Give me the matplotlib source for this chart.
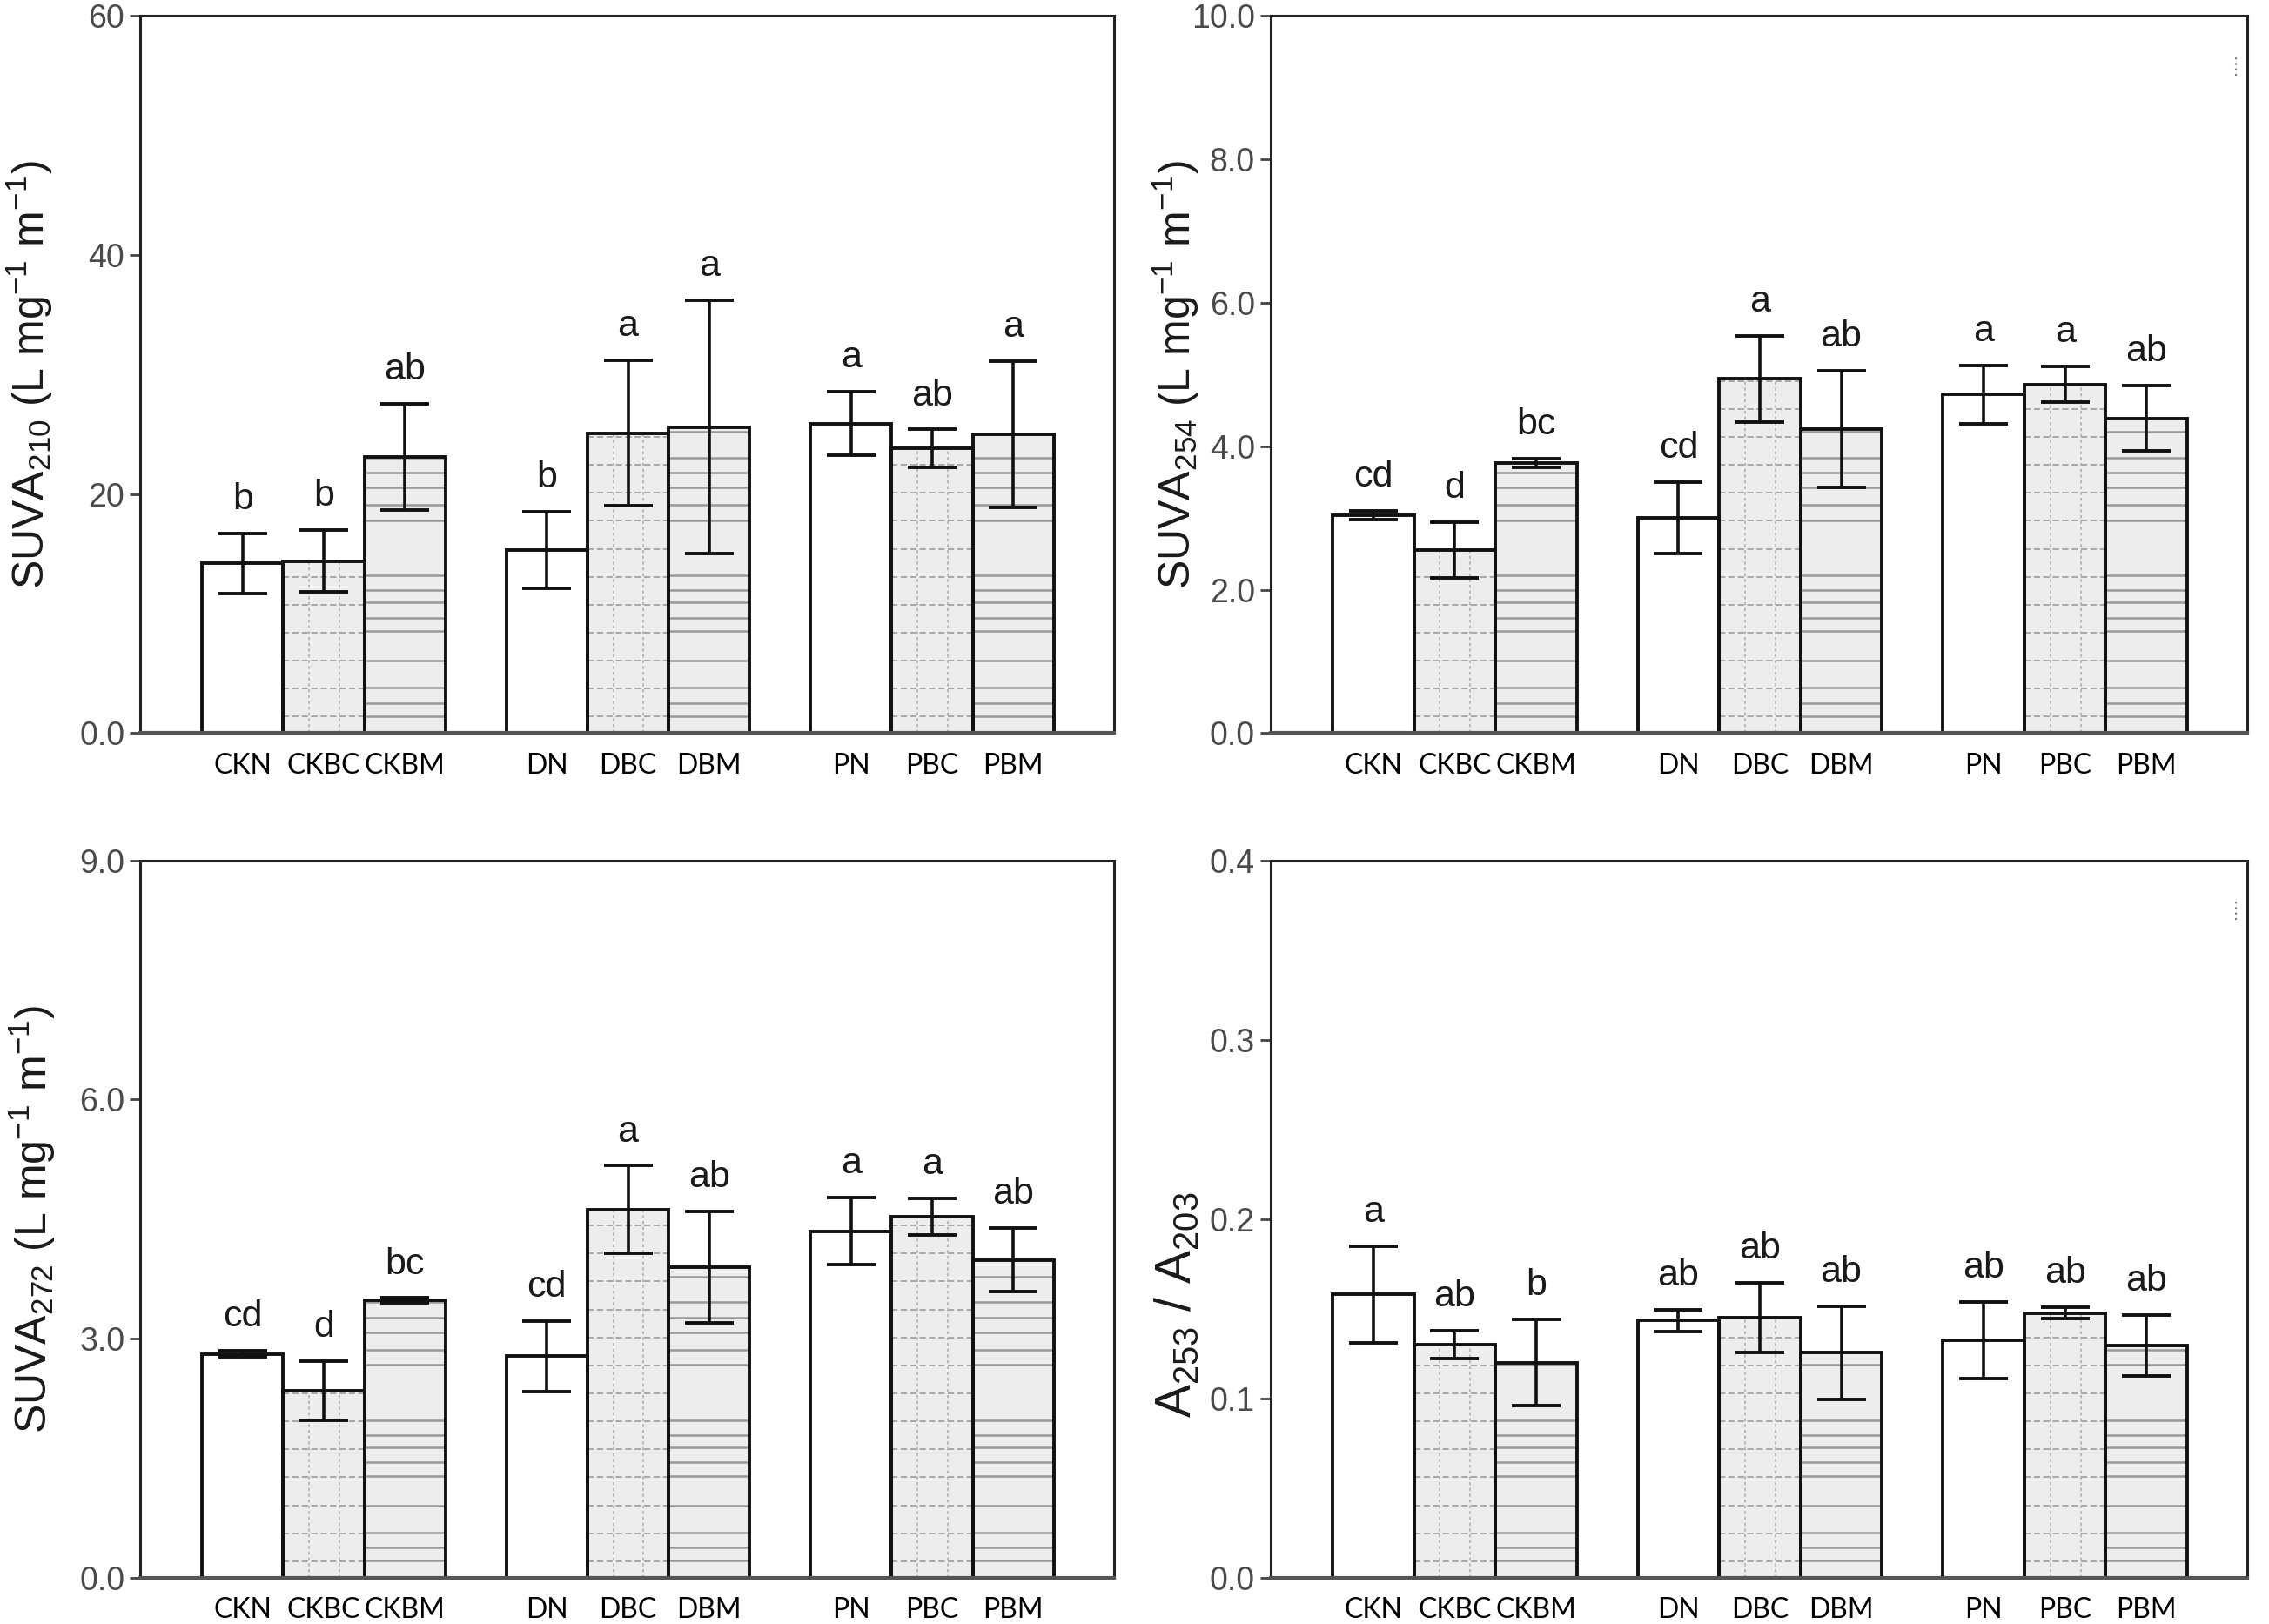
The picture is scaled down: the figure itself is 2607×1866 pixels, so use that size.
import numpy as np
import matplotlib
matplotlib.use("Agg")
import matplotlib.pyplot as plt

# --- dados ---
cats = ["CKN", "CKBC", "CKBM", "DN", "DBC", "DBM", "PN", "PBC", "PBM"]
kinds = ["N", "BC", "BM", "N", "BC", "BM", "N", "BC", "BM"]

suva210 = [14.2, 14.4, 23.1, 15.3, 25.1, 25.6, 25.9, 23.8, 25.0]
suva210_err = [2.5, 2.6, 4.45, 3.2, 6.1, 10.6, 2.65, 1.6, 6.1]
suva210_sig = ["b", "b", "ab", "b", "a", "a", "a", "ab", "a"]

suva254 = [3.04, 2.55, 3.77, 3.00, 4.94, 4.24, 4.72, 4.86, 4.39]
suva254_err = [0.06, 0.39, 0.06, 0.50, 0.60, 0.81, 0.41, 0.25, 0.46]
suva254_sig = ["cd", "d", "bc", "cd", "a", "ab", "a", "a", "ab"]

suva272 = [2.81, 2.35, 3.48, 2.78, 4.62, 3.90, 4.35, 4.53, 3.99]
suva272_err = [0.04, 0.37, 0.03, 0.44, 0.55, 0.70, 0.42, 0.23, 0.40]
suva272_sig = ["cd", "d", "bc", "cd", "a", "ab", "a", "a", "ab"]

ratio = [0.158, 0.130, 0.120, 0.1435, 0.145, 0.1255, 0.1324, 0.1477, 0.1294]
ratio_err = [0.027, 0.008, 0.024, 0.006, 0.0195, 0.026, 0.0215, 0.0033, 0.017]
ratio_sig = ["a", "ab", "b", "ab", "ab", "ab", "ab", "ab", "ab"]

plt.rcParams["mathtext.default"] = "regular"

tick_font = ["Liberation Sans", "DejaVu Sans"]
x_font = ["Lato", "DejaVu Sans"]

# posicoes: 3 grupos de 3 barras
x = np.concatenate([np.arange(3) + g * 3.75 for g in range(3)])
group_centers = [1, 4.75, 8.5]

# textura das barras (linhas em fracao da altura do eixo)
bc_rows = np.arange(0.023, 1.0, 0.039)
bm_rows = [0.024, 0.042, 0.063, 0.101, 0.142, 0.161, 0.182, 0.199, 0.220,
           0.297, 0.318, 0.342, 0.363, 0.384, 0.420, 0.451, 0.482, 0.520,
           0.556, 0.590, 0.630]


def painel(ax, vals, errs, sigs, ylim, yticks, yticklabels, ylabel, lab_x, lab_y=0.5):
    for xi, v, k in zip(x, vals, kinds):
        face = "white" if k == "N" else "#ededed"
        rect = ax.bar(xi, v, width=1.0, color=face, linewidth=0, zorder=1)[0]
        if k == "BC":
            hl = ax.hlines(bc_rows, xi - 0.5, xi + 0.5, transform=ax.get_xaxis_transform(),
                           colors="#a2a2a2", linewidth=1.3, linestyles=(0, (4, 2)), zorder=1.5)
            hl.set_clip_path(rect)
            ax.vlines([xi - 0.5 + 0.32, xi - 0.5 + 0.69], 0, v, colors="#b0b0b0",
                      linewidth=1.2, linestyles=(0, (2, 2)), zorder=1.5)
        elif k == "BM":
            hl = ax.hlines(bm_rows, xi - 0.5, xi + 0.5, transform=ax.get_xaxis_transform(),
                           colors="#999999", linewidth=1.8, zorder=1.5)
            hl.set_clip_path(rect)
        ax.bar(xi, v, width=1.0, fill=False, edgecolor="#111111", linewidth=2.8, zorder=2)
    ax.errorbar(x, vals, yerr=errs, fmt="none", ecolor="#111111", elinewidth=2.6,
                capsize=20.5, capthick=2.8, zorder=3)
    for xi, v, e, s in zip(x, vals, errs, sigs):
        ax.annotate(s, (xi, v + e), xytext=(0, 20), textcoords="offset points",
                    ha="center", va="baseline", fontsize=31, color="#1a1a1a",
                    family=tick_font)
    ax.set_xlim(-1.26, 10.74)
    ax.set_ylim(*ylim)
    ax.set_yticks(yticks)
    ax.set_yticklabels(yticklabels, family=tick_font, fontsize=27, color="#4a4a4a")
    ax.set_xticks(x)
    ax.set_xticklabels(cats, family=x_font, fontsize=23, color="black")
    ax.tick_params(axis="x", length=0, pad=16)
    ax.tick_params(axis="y", length=9, width=2, color="#444444", pad=4, direction="out")
    ax.set_xticks(group_centers, minor=True)
    ax.tick_params(axis="x", which="minor", length=5, width=2, color="#444444")
    for side in ["left", "top", "right"]:
        ax.spines[side].set_color("#222222")
        ax.spines[side].set_linewidth(2.2)
    ax.spines["bottom"].set_color("#555555")
    ax.spines["bottom"].set_linewidth(3)
    ax.set_ylabel(ylabel, family=tick_font, fontsize=36, color="#1a1a1a")
    ax.yaxis.set_label_coords(lab_x, lab_y)


fig = plt.figure(figsize=(26.07, 18.66), dpi=100)
h = 0.4416
ax1 = fig.add_axes([0.0619, 0.5486, 0.4290, h])
ax2 = fig.add_axes([0.5600, 0.5486, 0.4305, h])
ax3 = fig.add_axes([0.0619, 0.0285, 0.4290, h])
ax4 = fig.add_axes([0.5600, 0.0285, 0.4305, h])

painel(ax1, suva210, suva210_err, suva210_sig, (0, 60), [0, 20, 40, 60],
       ["0.0", "20", "40", "60"], r"SUVA$_{210}$ (L mg$^{-1}$ m$^{-1}$)", -0.088)
painel(ax2, suva254, suva254_err, suva254_sig, (0, 10), [0, 2, 4, 6, 8, 10],
       ["0.0", "2.0", "4.0", "6.0", "8.0", "10.0"], r"SUVA$_{254}$ (L mg$^{-1}$ m$^{-1}$)", -0.071)
painel(ax3, suva272, suva272_err, suva272_sig, (0, 9), [0, 3, 6, 9],
       ["0.0", "3.0", "6.0", "9.0"], r"SUVA$_{272}$ (L mg$^{-1}$ m$^{-1}$)", -0.085)
painel(ax4, ratio, ratio_err, ratio_sig, (0, 0.4), [0, 0.1, 0.2, 0.3, 0.4],
       ["0.0", "0.1", "0.2", "0.3", "0.4"], r"A$_{253}$ / A$_{203}$", -0.071, 0.38)
ax4.yaxis.label.set_fontsize(41)

# pequenos tracos pontilhados no canto direito (presentes no original)
for ax in (ax2, ax4):
    ax.plot([0.988, 0.988], [0.917, 0.945], transform=ax.transAxes, color="#777777",
            linestyle=(0, (1, 2)), linewidth=1.5)

fig.savefig("out.png", dpi=100)
